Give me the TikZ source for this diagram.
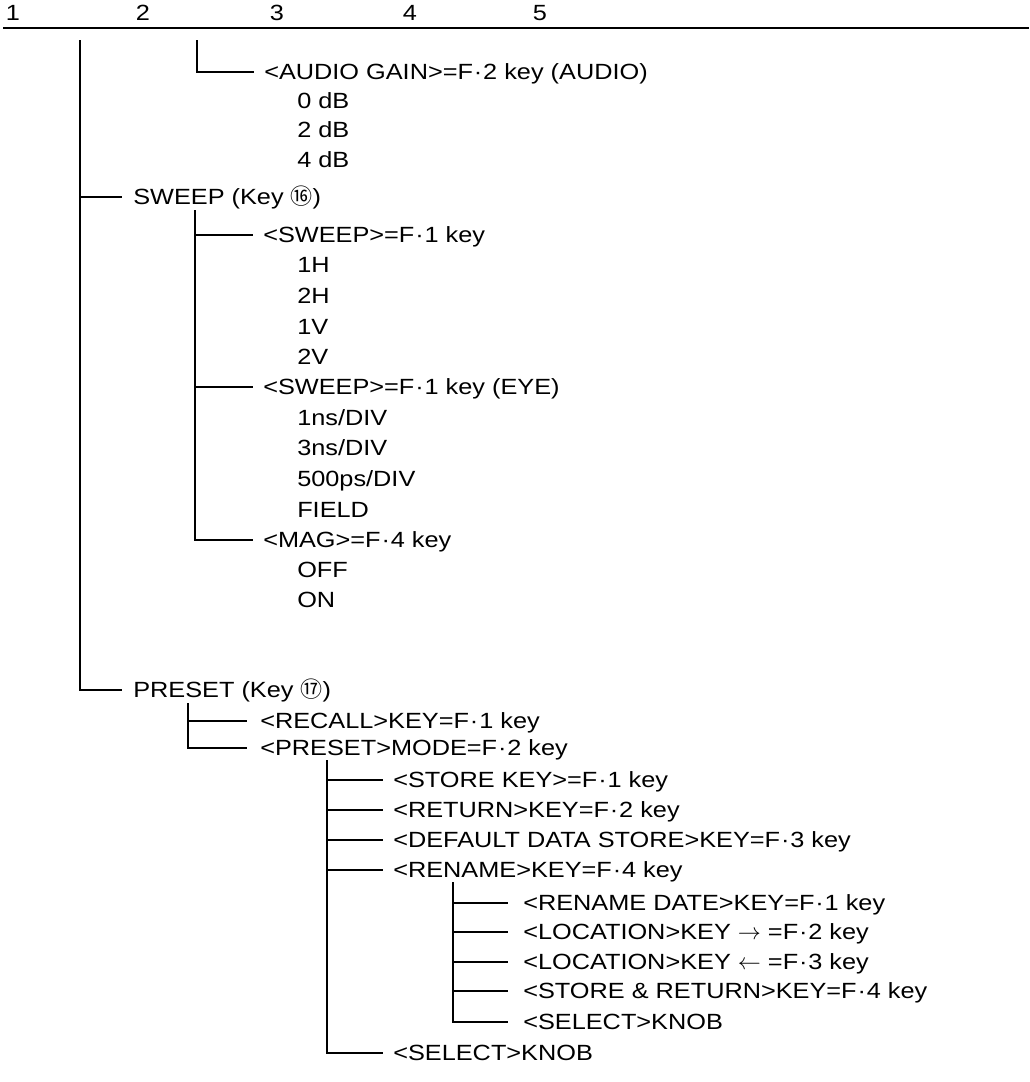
\documentclass[tikz,border=0pt]{standalone}
\usepackage{fontspec}
\setmainfont[FakeStretch=1.15]{Liberation Sans}
\newfontfamily\cjk{Noto Sans CJK SC}
\newcommand{\cdotF}{\kern0.04em·\kern0.04em}
\begin{document}
\begin{tikzpicture}[x=0.75pt,y=-0.75pt,
  lbl/.style={inner sep=0pt, anchor=west, text height=11.8pt, text depth=0pt, font=\fontsize{16.5}{19}\selectfont},
  hdr/.style={lbl, anchor=center},
  conn/.style={line width=1pt},
  gap/.style={xshift=-7.5pt}]
\useasboundingbox (0,0) rectangle (1029,1082);
% header
\node[hdr] (h1) at (13,13) {1};
\node[hdr] (h2) at (143,13) {2};
\node[hdr] (h3) at (277,13) {3};
\node[hdr] (h4) at (410,13) {4};
\node[hdr] (h5) at (540,13) {5};
\coordinate (rl) at (3,28);
\coordinate (rr) at (1029,28);
\draw[conn] (rl) -- (rr);
% level 1
\coordinate (v1) at (80,40);
\node[lbl] (sweep) at (133,197) {SWEEP (Key {\cjk ⑯})};
\node[lbl] (preset) at (133,690) {PRESET (Key {\cjk ⑰})};
\draw[conn] (v1) |- ([xshift=-8pt]sweep.west);
\draw[conn] (v1) |- ([xshift=-8pt]preset.west);
% audio gain
\coordinate (va) at (197,40);
\node[lbl] (audio) at (264,72) {<AUDIO GAIN>=F\cdotF 2 key (AUDIO)};
\node[lbl] (a0) at (297,101) {0 dB};
\node[lbl] (a2) at (297,130) {2 dB};
\node[lbl] (a4) at (297,160) {4 dB};
\draw[conn] (va) |- ([gap]audio.west);
% sweep children
\coordinate (vs) at (195,210);
\node[lbl] (sw1) at (263,235) {<SWEEP>=F\cdotF 1 key};
\node[lbl] (s1h) at (297,265) {1H};
\node[lbl] (s2h) at (297,296) {2H};
\node[lbl] (s1v) at (297,327) {1V};
\node[lbl] (s2v) at (297,357) {2V};
\node[lbl] (sw2) at (263,387) {<SWEEP>=F\cdotF 1 key (EYE)};
\node[lbl] (e1) at (297,418) {1ns/DIV};
\node[lbl] (e2) at (297,448) {3ns/DIV};
\node[lbl] (e3) at (297,479) {500ps/DIV};
\node[lbl] (e4) at (297,510) {FIELD};
\node[lbl] (mag) at (263,540) {<MAG>=F\cdotF 4 key};
\node[lbl] (moff) at (297,570) {OFF};
\node[lbl] (mon) at (297,600) {ON};
\draw[conn] (vs) |- ([gap]sw1.west);
\draw[conn] (vs) |- ([gap]sw2.west);
\draw[conn] (vs) |- ([gap]mag.west);
% preset children
\coordinate (vp) at (188,703);
\node[lbl] (recall) at (260,721) {<RECALL>KEY=F\cdotF 1 key};
\node[lbl] (pmode) at (260,748) {<PRESET>MODE=F\cdotF 2 key};
\draw[conn] (vp) |- ([xshift=-10pt]recall.west);
\draw[conn] (vp) |- ([xshift=-10pt]pmode.west);
% preset mode children
\coordinate (vm) at (327,760);
\node[lbl] (store) at (393,780) {<STORE KEY>=F\cdotF 1 key};
\node[lbl] (ret) at (393,810) {<RETURN>KEY=F\cdotF 2 key};
\node[lbl] (dflt) at (393,840) {<DEFAULT DATA STORE>KEY=F\cdotF 3 key};
\node[lbl] (ren) at (393,870) {<RENAME>KEY=F\cdotF 4 key};
\node[lbl] (sel) at (393,1053) {<SELECT>KNOB};
\foreach \n in {store,ret,dflt,ren,sel} \draw[conn] (vm) |- ([gap]\n.west);
% rename children
\coordinate (vr) at (453,882);
\node[lbl] (rd) at (523,903) {<RENAME DATE>KEY=F\cdotF 1 key};
\node[lbl] (lr) at (523,932) {<LOCATION>KEY $\rightarrow$ =F\cdotF 2 key};
\node[lbl] (ll) at (523,962) {<LOCATION>KEY $\leftarrow$ =F\cdotF 3 key};
\node[lbl] (sr) at (523,991) {<STORE \& RETURN>KEY=F\cdotF 4 key};
\node[lbl] (rsel) at (523,1022) {<SELECT>KNOB};
\foreach \n in {rd,lr,ll,sr,rsel} \draw[conn] (vr) |- ([xshift=-11pt]\n.west);
\end{tikzpicture}
\end{document}
